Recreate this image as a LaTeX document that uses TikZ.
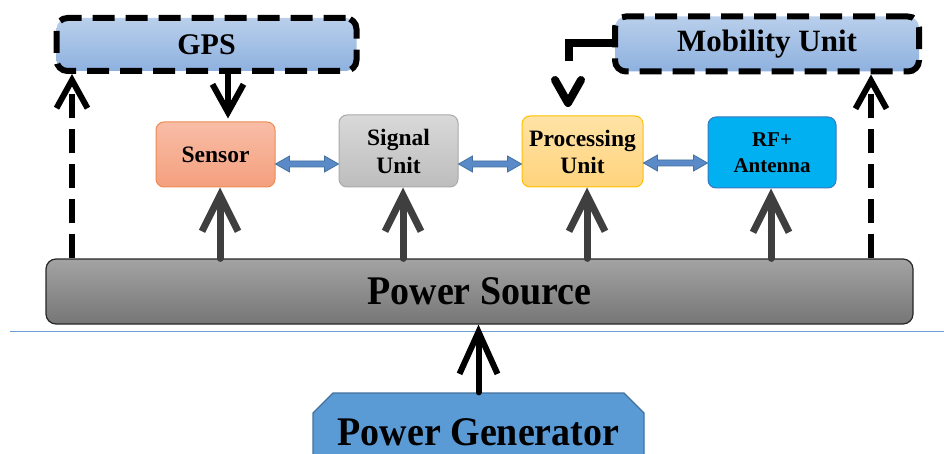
\documentclass[tikz,border=0pt]{standalone}
\usepackage{fontspec}
\setmainfont{Liberation Serif}
\usetikzlibrary{arrows.meta,shapes.misc,calc}

\definecolor{skyTop}{HTML}{B9CFEB}
\definecolor{skyBot}{HTML}{8EB1DF}
\definecolor{senTop}{HTML}{F8BDA6}
\definecolor{senBot}{HTML}{F4A07E}
\definecolor{senLine}{HTML}{EE8A52}
\definecolor{sigTop}{HTML}{D9D9D9}
\definecolor{sigBot}{HTML}{BDBDBD}
\definecolor{sigLine}{HTML}{A9A9A9}
\definecolor{proTop}{HTML}{FFE3A6}
\definecolor{proBot}{HTML}{FFD37C}
\definecolor{proLine}{HTML}{FFC000}
\definecolor{rfFill}{HTML}{00B0F0}
\definecolor{rfLine}{HTML}{3A78C0}
\definecolor{psTop}{HTML}{A3A3A3}
\definecolor{psBot}{HTML}{767676}
\definecolor{genFill}{HTML}{5B9BD5}
\definecolor{genLine}{HTML}{41719C}
\definecolor{linkFill}{HTML}{5A8BC8}
\definecolor{linkLine}{HTML}{41719C}
\definecolor{feedGray}{HTML}{3F3F3F}
\definecolor{sepBlue}{HTML}{6C9FD8}

\newcommand\biarrow[2]{%
  \filldraw[link] let \p1=#1, \p2=#2 in
    (\x1,\y1) -- (\x1+14pt,\y1+8pt) -- (\x1+14pt,\y1+3pt) -- (\x2-14pt,\y2+3pt)
    -- (\x2-14pt,\y2+8pt) -- (\x2,\y2) -- (\x2-14pt,\y2-8pt) -- (\x2-14pt,\y2-3pt)
    -- (\x1+14pt,\y1-3pt) -- (\x1+14pt,\y1-8pt) -- cycle;}
% tall bold caption for the wide bars
\newcommand\barlabel[1]{\bfseries\fontsize{38}{38}\selectfont\scalebox{1}[1.07]{#1}}

\begin{document}
\begin{tikzpicture}[x=1pt,y=-1pt,
  unitbox/.style={rounded corners=8pt, inner sep=0pt, align=center, line width=1pt,
    font=\bfseries\fontsize{23.5}{27}\selectfont},
  dashbox/.style={rounded corners=11pt, inner sep=0pt, draw=black, line width=6pt,
    dash pattern=on 22pt off 11pt, top color=skyTop, bottom color=skyBot},
  feed/.style={draw=feedGray, line width=7pt, line cap=round, line join=round,
    -{Straight Barb[length=36pt,width=36pt]}},
  ctrl/.style={draw=black, line width=6pt, line cap=round, line join=round},
  ctrlarrow/.style={ctrl, -{Straight Barb[length=28pt,width=31pt]}},
  dashlink/.style={ctrlarrow, line cap=butt, dash pattern=on 24pt off 11pt},
  link/.style={fill=linkFill, draw=linkLine, line width=0.8pt, line join=miter}
]
\useasboundingbox (0,0) rectangle (944,454);

% separator rule
\draw[sepBlue, line width=1pt] (10,331) -- (944,331);

% top row: optional modules
\node[dashbox, minimum width=300pt, minimum height=53pt] (gps) at (206.5,44.5)
  {\bfseries\fontsize{30}{30}\selectfont\raisebox{-4pt}{GPS}};
\node[dashbox, minimum width=304pt, minimum height=55pt] (mob) at (767,44)
  {\bfseries\fontsize{31}{31}\selectfont Mobility Unit};

% middle row: core units
\node[unitbox, draw=senLine, top color=senTop, bottom color=senBot,
  minimum width=119pt, minimum height=65pt] (sen) at (215.5,154.5) {Sensor};
\node[unitbox, draw=sigLine, top color=sigTop, bottom color=sigBot,
  font=\bfseries\fontsize{23.5}{28}\selectfont,
  minimum width=119pt, minimum height=72pt] (sig) at (398.5,151) {Signal\\Unit};
\node[unitbox, draw=proLine, top color=proTop, bottom color=proBot,
  minimum width=121pt, minimum height=71pt] (pro) at (582.5,151.5) {Processing\\Unit};
\node[unitbox, draw=rfLine, fill=rfFill, font=\bfseries\fontsize{21}{26}\selectfont,
  minimum width=128pt, minimum height=71pt] (rf) at (772,152.5) {RF+\\Antenna};

% power source bar
\node[rounded corners=10pt, draw=black!85, line width=1.2pt, top color=psTop, bottom color=psBot,
  minimum width=867pt, minimum height=65pt, inner sep=0pt] (ps) at (479.5,291.5)
  {\raisebox{-4pt}{\barlabel{Power Source}}};

% power generator block (runs off the lower edge)
\node[chamfered rectangle, chamfered rectangle corners={north west,north east},
  chamfered rectangle xsep=8pt, chamfered rectangle ysep=12pt,
  fill=genFill, draw=genLine, line width=1.2pt, inner sep=0pt,
  minimum width=331pt, minimum height=80pt] (gen) at (478.5,433)
  {\raisebox{1pt}{\barlabel{Power Generator}}};

% horizontal data links
\coordinate (ya) at (0,164);
\coordinate (yb) at (0,163);
\biarrow{(sen.east |- ya)}{(sig.west |- ya)}
\biarrow{(sig.east |- ya)}{(pro.west |- ya)}
\biarrow{(pro.east |- yb)}{(rf.west |- yb)}

% power feeds from the source bar
\coordinate (f1) at (220,0);
\coordinate (f2) at (403,0);
\coordinate (f3) at (587,0);
\coordinate (f4) at (771,0);
\draw[feed] (ps.north -| f1) -- (sen.south -| f1);
\draw[feed] (ps.north -| f2) -- (sig.south -| f2);
\draw[feed] (ps.north -| f3) -- (pro.south -| f3);
\draw[feed] (ps.north -| f4) -- (rf.south -| f4);

% dashed feeds to the optional modules
\coordinate (dl) at (72,0);
\coordinate (dr) at (871,0);
\draw[dashlink] (ps.north -| dl) -- (gps.south -| dl);
\draw[dashlink] (ps.north -| dr) -- (mob.south -| dr);

% GPS to sensor
\coordinate (gx) at (228,0);
\draw[ctrlarrow] (gps.south -| gx) -- ([yshift=3pt]sen.north -| gx);

% mobility unit to processing unit
\coordinate (mbend) at (569,61);
\coordinate (mtip) at (568,103);
\draw[ctrl, line width=7.5pt, line cap=butt, line join=miter] ([yshift=1pt]mob.west) -| (mbend);
\draw[ctrl, line width=8pt] ($(mtip)+(-13,-23)$) -- (mtip) -- ($(mtip)+(13,-23)$);

% generator into the source bar
\draw[ctrl, -{Straight Barb[length=42pt,width=38pt]}] (gen.north) -- (ps.south -| gen.north);
\end{tikzpicture}
\end{document}
